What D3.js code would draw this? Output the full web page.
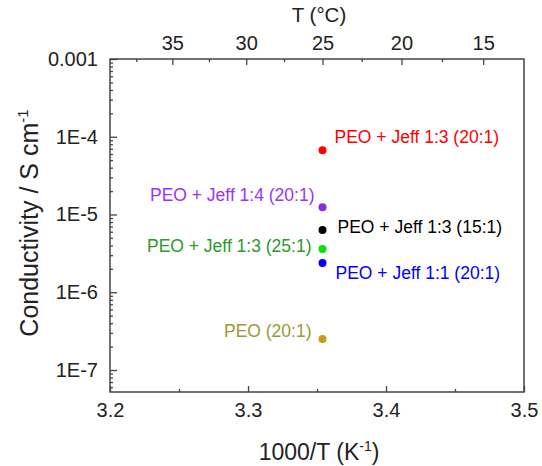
<!DOCTYPE html>
<html>
<head>
<meta charset="utf-8">
<script src="https://cdn.jsdelivr.net/npm/d3@7.9.0/dist/d3.min.js"></script>
<style>
  body { margin: 0; background: #fff; }
  svg text { font-family: "Liberation Sans", Arial, sans-serif; }
</style>
</head>
<body>
<svg id="chart" width="542" height="466"></svg>
<script>
// data
const labels = ["PEO + Jeff 1:3 (20:1)", "PEO + Jeff 1:4 (20:1)", "PEO + Jeff 1:3 (15:1)",
                "PEO + Jeff 1:3 (25:1)", "PEO + Jeff 1:1 (20:1)", "PEO (20:1)"];
const invT = [3.354, 3.354, 3.354, 3.354, 3.354, 3.354];
const conductivity = [6.7e-5, 1.24e-5, 6.3e-6, 3.6e-6, 2.37e-6, 2.5e-7];
const pointColors = ["#ff0000", "#8a2be2", "#000000", "#00e600", "#0000ff", "#cc9a1a"];
const labelColors = ["#ff0000", "#9933ff", "#000000", "#2b9a2b", "#0000ff", "#9a9a33"];
const xTicks = [3.2, 3.3, 3.4, 3.5];
const xMinor = [3.25, 3.35, 3.45];
const yTicks = [1e-7, 1e-6, 1e-5, 1e-4, 1e-3];
const yTickLabels = ["1E-7", "1E-6", "1E-5", "1E-4", "0.001"];
const tTicks = [35, 30, 25, 20, 15];
const tMinor = [37.5, 32.5, 27.5, 22.5, 17.5];

// label placement: [dx, dy, anchor]
const labelPlace = [[12, -13, "start"], [-8, -12, "end"], [15, -3, "start"],
                    [-11, -3, "end"], [13, 10, "start"], [-11, -8, "end"]];

const svg = d3.select("#chart");
const mLeft = 110, mRight = 524, mTop = 59, mBottom = 392;
const axisColor = "#444";

const x = d3.scaleLinear().domain([3.2, 3.5]).range([mLeft, mRight]);
const y = d3.scaleLog().domain([Math.pow(10, -7.283), 1e-3]).range([mBottom, mTop]);
const invOfC = t => 1000 / (t + 273.15);

// frame
svg.append("rect").attr("x", mLeft).attr("y", mTop)
  .attr("width", mRight - mLeft).attr("height", mBottom - mTop)
  .attr("fill", "none").attr("stroke", axisColor).attr("stroke-width", 1.5);

// bottom axis
const gx = svg.append("g").attr("transform", `translate(0,${mBottom})`)
  .call(d3.axisBottom(x).tickValues(xTicks).tickFormat(d3.format(".1f")).tickSize(-6).tickPadding(11));
gx.append("g").call(d3.axisBottom(x).tickValues(xMinor).tickFormat("").tickSize(-3));

// top axis (T in °C)
const gt = svg.append("g").attr("transform", `translate(0,${mTop})`)
  .call(d3.axisTop(x).tickValues(tTicks.map(invOfC)).tickFormat((d, i) => tTicks[i]).tickSize(-6).tickPadding(9));
gt.append("g").call(d3.axisTop(x).tickValues(tMinor.map(invOfC)).tickFormat("").tickSize(-3));

// left axis (log)
const minorY = [];
for (let e = -8; e <= -4; e++) {
  for (let m = 2; m <= 9; m++) {
    const v = m * Math.pow(10, e);
    if (v >= y.domain()[0] && v <= 1e-3) minorY.push(v);
  }
}
const gy = svg.append("g").attr("transform", `translate(${mLeft},0)`)
  .call(d3.axisLeft(y).tickValues(yTicks).tickFormat((d, i) => yTickLabels[i]).tickSize(-7).tickPadding(12));
gy.append("g").call(d3.axisLeft(y).tickValues(minorY).tickFormat("").tickSize(-3));

svg.selectAll(".domain").remove();
svg.selectAll(".tick line").attr("stroke", axisColor).attr("stroke-width", 1.3);
svg.selectAll(".tick text").attr("font-size", 20).attr("fill", "#222")
  .attr("font-family", "Liberation Sans, Arial, sans-serif");

// axis titles
svg.append("text").attr("x", (mLeft + mRight) / 2 + 2).attr("y", 460)
  .attr("text-anchor", "middle").attr("font-size", 23).attr("fill", "#222")
  .html('1000/T (K<tspan dy="-9" font-size="14">-1</tspan><tspan dy="9">)</tspan>');
svg.append("text").attr("x", (mLeft + mRight) / 2 + 2).attr("y", 22)
  .attr("text-anchor", "middle").attr("font-size", 20.5).attr("fill", "#222")
  .text("T (°C)");
svg.append("text").attr("transform", `translate(38,223) rotate(-90)`)
  .attr("text-anchor", "middle").attr("font-size", 25).attr("fill", "#222")
  .html('Conductivity / S cm<tspan dy="-10" font-size="15">-1</tspan>');

// points
svg.append("g").selectAll("circle")
  .data(conductivity)
  .join("circle")
  .attr("cx", (d, i) => x(invT[i]))
  .attr("cy", d => y(d))
  .attr("r", 4)
  .attr("fill", (d, i) => pointColors[i]);

// point labels
svg.append("g").selectAll("text")
  .data(conductivity)
  .join("text")
  .attr("x", (d, i) => x(invT[i]) + labelPlace[i][0])
  .attr("y", (d, i) => y(d) + labelPlace[i][1])
  .attr("dy", "0.35em")
  .attr("text-anchor", (d, i) => labelPlace[i][2])
  .attr("font-size", 17.5)
  .attr("fill", (d, i) => labelColors[i])
  .text((d, i) => labels[i]);
</script>
</body>
</html>
